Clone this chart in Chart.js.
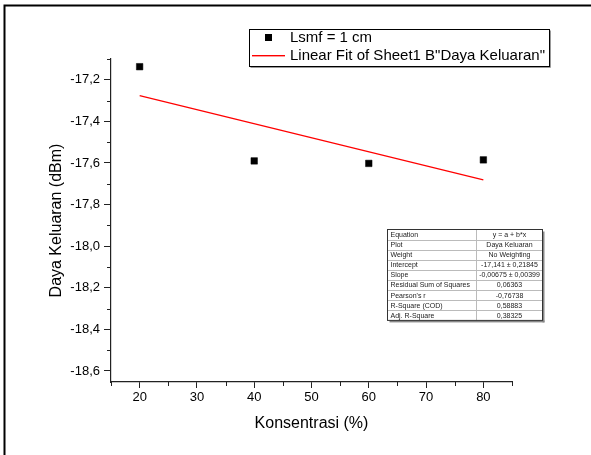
<!DOCTYPE html>
<html>
<head>
<meta charset="utf-8">
<script src="https://cdn.jsdelivr.net/npm/chart.js@4.4.0/dist/chart.umd.min.js"></script>
<style>
  body { margin: 0; background: #fff; }
  canvas { display: block; }
</style>
</head>
<body>
<canvas id="chart" width="591" height="455"></canvas>
<script>
// data
const konsentrasi = [20, 40, 60, 80];
const dayaKeluaran = [-17.137, -17.590, -17.602, -17.585];
const fitX = [20, 80];
const fitY = [-17.276, -17.681];

const xTicks = [20, 30, 40, 50, 60, 70, 80];
const xMinorTicks = [15, 25, 35, 45, 55, 65, 75, 85];
const yTicks = [-18.6, -18.4, -18.2, -18.0, -17.8, -17.6, -17.4, -17.2];
const yMinorTicks = [-18.5, -18.3, -18.1, -17.9, -17.7, -17.5, -17.3, -17.1];

const seriesLabel = 'Lsmf = 1 cm';
const fitLabel = 'Linear Fit of Sheet1 B"Daya Keluaran"';

const statsNames = ['Equation', 'Plot', 'Weight', 'Intercept', 'Slope',
  'Residual Sum of Squares', "Pearson's r", 'R-Square (COD)', 'Adj. R-Square'];
const statsValues = ['y = a + b*x', 'Daya Keluaran', 'No Weighting',
  '-17,141 \u00b1 0,21845', '-0,00675 \u00b1 0,00399', '0,06363',
  '-0,76738', '0,58883', '0,38325'];

const FONT = "'Liberation Sans', Arial, sans-serif";

// frame, legend box, stats table and minor ticks
const extras = {
  id: 'extras',
  beforeDraw(chart) {
    const ctx = chart.ctx;
    ctx.save();
    ctx.fillStyle = '#fff';
    ctx.fillRect(0, 0, chart.width, chart.height);
    ctx.restore();
  },
  afterDraw(chart) {
    const ctx = chart.ctx;
    const xs = chart.scales.x, ys = chart.scales.y;
    const area = chart.chartArea;
    ctx.save();

    // outer frame (only left and top are inside the picture)
    ctx.strokeStyle = '#000';
    ctx.lineWidth = 2;
    ctx.beginPath();
    ctx.moveTo(4.5, chart.height);
    ctx.lineTo(4.5, 5.5);
    ctx.lineTo(chart.width, 5.5);
    ctx.stroke();

    // minor ticks
    ctx.strokeStyle = '#222';
    ctx.lineWidth = 1;
    ctx.beginPath();
    yMinorTicks.forEach(v => {
      const py = Math.round(ys.getPixelForValue(v)) + 0.5;
      ctx.moveTo(area.left - 4, py);
      ctx.lineTo(area.left, py);
    });
    xMinorTicks.forEach(v => {
      const px = Math.round(xs.getPixelForValue(v)) + 0.5;
      ctx.moveTo(px, area.bottom);
      ctx.lineTo(px, area.bottom + 4);
    });
    ctx.stroke();

    // legend
    const lx = 249.5, ly = 29.5, lw = 300, lh = 37;
    ctx.fillStyle = '#999';
    ctx.fillRect(lx + 1, ly + lh, lw, 1.5);
    ctx.fillRect(lx + lw, ly + 1, 1.5, lh);
    ctx.fillStyle = '#fff';
    ctx.fillRect(lx, ly, lw, lh);
    ctx.strokeStyle = '#000';
    ctx.lineWidth = 1;
    ctx.strokeRect(lx, ly, lw, lh);

    ctx.fillStyle = '#000';
    ctx.fillRect(265, 34, 7, 7);
    ctx.fillStyle = '#ff0000';
    ctx.fillRect(252, 55, 33, 1.4);

    ctx.fillStyle = '#000';
    ctx.font = '15px ' + FONT;
    ctx.textBaseline = 'middle';
    ctx.textAlign = 'left';
    ctx.fillText(chart.data.datasets[0].label, 290, 38);
    ctx.fillText(chart.data.datasets[1].label, 290, 56);

    // stats table
    const tx = 387.5, ty = 229.5, tw = 155, rowH = 10.1, splitX = 476.5;
    const th = rowH * statsNames.length;
    ctx.fillStyle = '#888';
    ctx.fillRect(tx + 2, ty + th, tw, 2);
    ctx.fillRect(tx + tw, ty + 2, 2, th);
    ctx.fillStyle = '#fff';
    ctx.fillRect(tx, ty, tw, th);

    ctx.strokeStyle = '#bbb';
    ctx.lineWidth = 1;
    ctx.beginPath();
    for (let i = 1; i < statsNames.length; i++) {
      const yy = Math.round(ty + i * rowH) + 0.5;
      ctx.moveTo(tx, yy);
      ctx.lineTo(tx + tw, yy);
    }
    ctx.moveTo(splitX, ty);
    ctx.lineTo(splitX, ty + th);
    ctx.stroke();
    ctx.strokeStyle = '#333';
    ctx.strokeRect(tx, ty, tw, th);

    ctx.fillStyle = '#222';
    ctx.font = '7px ' + FONT;
    ctx.textBaseline = 'middle';
    statsNames.forEach((name, i) => {
      const cy = ty + i * rowH + rowH / 2 + 0.5;
      ctx.textAlign = 'left';
      ctx.fillText(name, tx + 3, cy);
      ctx.textAlign = 'center';
      ctx.fillText(statsValues[i], (splitX + tx + tw) / 2, cy);
    });

    ctx.restore();
  }
};

const fmt = v => v.toFixed(1).replace('.', ',');

new Chart(document.getElementById('chart'), {
  type: 'scatter',
  data: {
    datasets: [{
      label: seriesLabel,
      data: konsentrasi.map((x, i) => ({ x: x, y: dayaKeluaran[i] })),
      pointStyle: 'rect',
      pointRadius: 4.6,
      backgroundColor: '#000',
      borderColor: '#000',
      borderWidth: 0.5
    }, {
      label: fitLabel,
      data: fitX.map((x, i) => ({ x: x, y: fitY[i] })),
      showLine: true,
      pointRadius: 0,
      borderColor: '#f00',
      borderWidth: 1.2,
      fill: false
    }]
  },
  options: {
    responsive: false,
    animation: false,
    devicePixelRatio: 1,
    layout: { padding: { top: 59, right: 79, left: 0, bottom: 0 } },
    plugins: {
      legend: { display: false },
      tooltip: { enabled: false }
    },
    scales: {
      x: {
        type: 'linear',
        min: 15,
        max: 85,
        afterBuildTicks: scale => { scale.ticks = xTicks.map(v => ({ value: v })); },
        afterFit: scale => { scale.height = 73; },
        grid: { drawOnChartArea: false, tickLength: 6, color: '#222', lineWidth: 1 },
        border: { color: '#222', width: 1.2 },
        ticks: {
          color: '#000',
          padding: 2,
          maxRotation: 0,
          font: { family: FONT, size: 13 },
          callback: v => String(v)
        },
        title: {
          display: true,
          text: 'Konsentrasi (%)',
          color: '#000',
          font: { family: FONT, size: 16 },
          padding: { top: 0, bottom: 22 }
        }
      },
      y: {
        type: 'linear',
        min: -18.653,
        max: -17.1,
        afterBuildTicks: scale => { scale.ticks = yTicks.map(v => ({ value: v })); },
        afterFit: scale => { scale.width = 111; },
        grid: { drawOnChartArea: false, tickLength: 7, color: '#222', lineWidth: 1 },
        border: { color: '#222', width: 1.2 },
        ticks: {
          color: '#000',
          padding: 4,
          font: { family: FONT, size: 13 },
          callback: v => fmt(v)
        },
        title: {
          display: true,
          text: 'Daya Keluaran (dBm)',
          color: '#000',
          font: { family: FONT, size: 16 },
          padding: { top: 47, bottom: 0 }
        }
      }
    }
  },
  plugins: [extras]
});
</script>
</body>
</html>
